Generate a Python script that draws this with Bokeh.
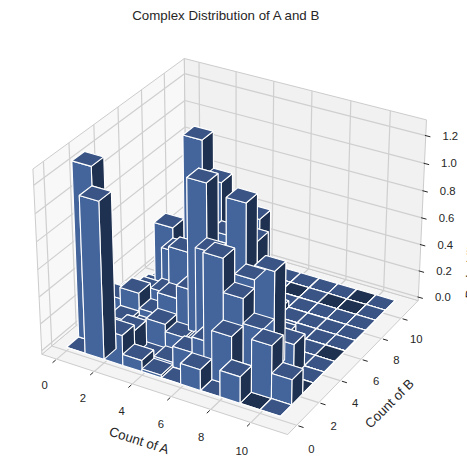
import numpy as np
from bokeh.plotting import figure
from bokeh.embed import file_html
from bokeh.resources import INLINE
from bokeh.models import Range1d, Label

title = "Complex Distribution of A and B"
x_label = "Count of A"
y_label = "Count of B"
z_label = "Probability"
x_ticks = [0, 2, 4, 6, 8, 10]
y_ticks = [0, 2, 4, 6, 8, 10]
z_ticks = [0.0, 0.2, 0.4, 0.6, 0.8, 1.0, 1.2]
counts_a = list(range(11))
counts_b = list(range(11))
# heights[A][B]
heights = [
 [0.00,1.28,0.08,0.18,0.12,0.05,0.03,0.00,0.00,0.00,0.00],
 [1.144,0.10,0.13,0.265,0.20,0.10,0.536,0.00,0.00,0.00,0.00],
 [0.223,0.18,0.10,0.15,0.23,0.46,0.30,1.15,0.00,0.00,0.00],
 [0.082,0.02,0.195,0.313,0.58,0.50,0.40,0.88,0.00,0.00,0.00],
 [0.02,0.035,0.14,0.408,1.118,0.40,0.60,0.30,0.00,0.00,0.00],
 [0.00,0.154,0.12,0.727,0.60,0.50,0.30,0.69,0.00,0.00,0.00],
 [0.153,0.27,0.806,0.50,1.055,0.71,0.20,0.05,0.00,0.00,0.00],
 [0.00,0.361,0.56,0.62,0.20,0.05,0.00,0.00,0.00,0.00,0.00],
 [0.194,0.00,0.38,0.723,0.18,0.00,0.00,0.00,0.00,0.00,0.00],
 [0.00,0.386,0.05,0.238,0.00,0.00,0.00,0.00,0.00,0.00,0.00],
 [0.00,0.185,0.00,0.00,0.00,0.00,0.00,0.00,0.00,0.00,0.00],
]
dark_tiles = [(10,5),(9,0),(10,2),(6,9),(8,9),(9,9),(9,10)]

X0, X1 = -0.802, 11.802
Y0, Y1 = -0.802, 11.802
Z0, Z1 = -0.0268, 1.312
W, H = 467, 471
S, OX, OY = 2365.0, 233.0, 237.0

def proj(x, y, z):
    x, y, z = np.asarray(x, float), np.asarray(y, float), np.asarray(z, float)
    dx = ((x - X0) / (X1 - X0) - 0.5) * 1.1905
    dy = ((y - Y0) / (Y1 - Y0) - 0.5) * 1.1905
    dz = ((z - Z0) / (Z1 - Z0) - 0.5) * 0.8929
    cx = 0.8660254 * dx + 0.5 * dy
    cy = -0.25 * dx + 0.4330127 * dy + 0.8660254 * dz
    depth = 0.4330127 * dx - 0.75 * dy + 0.5 * dz
    w = 10.0 - depth
    return OX + S * cx / w, -(OY - S * cy / w), w

p = figure(width=W, height=H, output_backend="svg", toolbar_location=None,
           x_range=Range1d(0, W), y_range=Range1d(-H, 0), min_border=0)
p.axis.visible = False
p.grid.visible = False
p.outline_line_color = None

def face(pts, fc, ec=None, lw=1.0):
    xs, ys, _ = proj(*zip(*pts))
    p.patch(list(xs), list(ys), fill_color=fc, line_color=ec if ec else fc, line_width=lw)

def seg(a, b, color, lw=1.0):
    xs, ys, _ = proj(*zip(a, b))
    p.line(list(xs), list(ys), line_color=color, line_width=lw)

# panes
face([(X0,Y0,Z0),(X1,Y0,Z0),(X1,Y1,Z0),(X0,Y1,Z0)], "#F4F4F4", "#CCCCCC", 1)
face([(X0,Y0,Z0),(X0,Y1,Z0),(X0,Y1,Z1),(X0,Y0,Z1)], "#F8F8F8", "#CCCCCC", 1)
face([(X0,Y1,Z0),(X1,Y1,Z0),(X1,Y1,Z1),(X0,Y1,Z1)], "#F1F1F1", "#CCCCCC", 1)
for t in x_ticks:
    seg((t,Y0,Z0),(t,Y1,Z0),"#CFCFCF",1.2); seg((t,Y1,Z0),(t,Y1,Z1),"#CFCFCF",1.2)
for t in y_ticks:
    seg((X1,t,Z0),(X0,t,Z0),"#CFCFCF",1.2); seg((X0,t,Z0),(X0,t,Z1),"#CFCFCF",1.2)
for t in z_ticks:
    seg((X1,Y1,t),(X0,Y1,t),"#CFCFCF",1.2); seg((X0,Y1,t),(X0,Y0,t),"#CFCFCF",1.2)

DD = (X1 - X0) / 12
for t in x_ticks:
    seg((t,Y0-0.08*DD,Z0),(t,Y0-0.32*DD,Z0),"#262626",1)
for t in y_ticks:
    seg((X1+0.08*DD,t,Z0),(X1+0.32*DD,t,Z0),"#262626",1)
for t in z_ticks:
    seg((X1-0.04*DD,Y1,t),(X1+0.22*DD,Y1,t),"#262626",1)

TOP, FRONT, SIDE, BOT = "#3A5585", "#44659B", "#1F3150", "#1F3150"
polys = []
for i, a in enumerate(counts_a):
    for j, b in enumerate(counts_b):
        h = heights[i][j]
        x0, x1, y0, y1 = a, a + 1, b, b + 1
        top_col = BOT if (h == 0 and (a, b) in dark_tiles) else TOP
        fs = [
            ([(x0,y0,0),(x1,y0,0),(x1,y1,0),(x0,y1,0)], BOT),
            ([(x0,y0,h),(x1,y0,h),(x1,y1,h),(x0,y1,h)], top_col),
            ([(x0,y0,0),(x1,y0,0),(x1,y0,h),(x0,y0,h)], FRONT),
            ([(x0,y1,0),(x1,y1,0),(x1,y1,h),(x0,y1,h)], FRONT),
            ([(x0,y0,0),(x0,y1,0),(x0,y1,h),(x0,y0,h)], SIDE),
            ([(x1,y0,0),(x1,y1,0),(x1,y1,h),(x1,y0,h)], SIDE),
        ]
        for pts, c in fs:
            xs, ys, w = proj(*zip(*pts))
            polys.append((float(np.mean(w)), list(xs), list(ys), c))
polys.sort(key=lambda t: -t[0])
p.patches([t[1] for t in polys], [t[2] for t in polys], fill_color=[t[3] for t in polys],
          line_color="white", line_width=1.1)

def label(x, y, s, size="10px", angle=0.0):
    p.add_layout(Label(x=x, y=y, text=s, text_font="Liberation Sans", text_font_size=size,
                       text_color="#262626", text_align="center", text_baseline="middle",
                       angle=angle))

label(226, -15, title, "13.3px")
for t in x_ticks:
    x, y, _ = proj(t + 0.7, Y0 - 2.0, Z0)
    label(float(x), float(y), str(t), "11.3px")
for t in y_ticks:
    x, y, _ = proj(X1 + 1.4, t - 1.26, Z0)
    label(float(x), float(y), str(t), "11.3px")
for t in z_ticks:
    x, y, _ = proj(X1, Y1, t)
    label(float(x) + 24.5, float(y), f"{t:.1f}", "11.3px")

label(139, -440, x_label, "13.3px", -0.31)
label(389, -403, y_label, "13.3px", 0.79)
label(471, -267, z_label, "13.3px", 1.53)

open("out.html", "w").write(file_html(p, INLINE))
